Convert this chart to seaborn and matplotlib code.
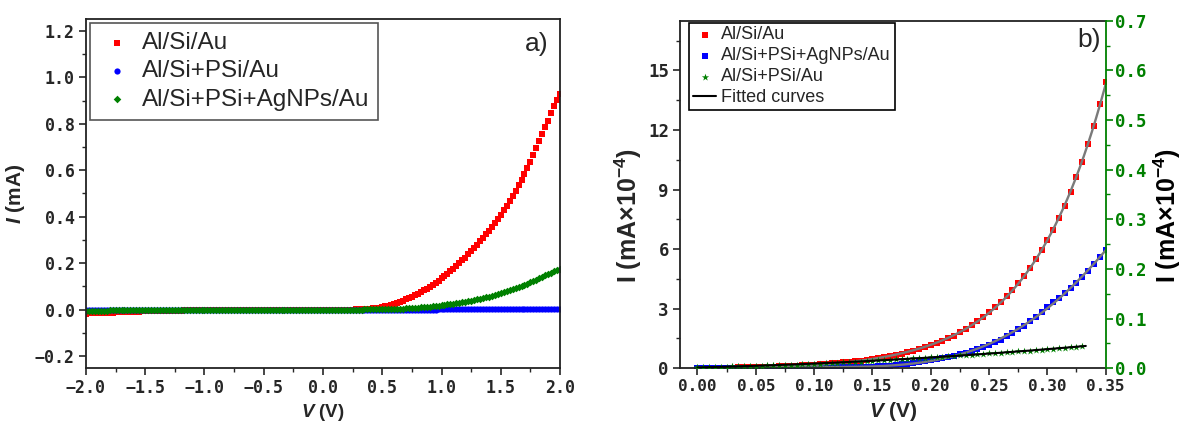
import numpy as np
import matplotlib
matplotlib.use("Agg")
import matplotlib.pyplot as plt
from matplotlib.ticker import MultipleLocator, FuncFormatter
import seaborn as sns

# ---------------- (a) full I-V sweep, -2 V .. 2 V in 25 mV steps, current in mA ----------------
v_sweep = np.round(np.arange(-2.0, 2.0001, 0.025), 3)

i_al_si_au = [
    # -2.000 .. -0.025 V
    -0.0170, -0.0165, -0.0160, -0.0155, -0.0150, -0.0145, -0.0140, -0.0135,
    -0.0130, -0.0125, -0.0120, -0.0115, -0.0110, -0.0105, -0.0100, -0.0095,
    -0.0090, -0.0087, -0.0084, -0.0080, -0.0077, -0.0074, -0.0070, -0.0066,
    -0.0062, -0.0058, -0.0055, -0.0052, -0.0050, -0.0047, -0.0044, -0.0041,
    -0.0038, -0.0035, -0.0033, -0.0031, -0.0029, -0.0027, -0.0025, -0.0023,
    -0.0021, -0.0020, -0.0019, -0.0018, -0.0017, -0.0016, -0.0015, -0.0014,
    -0.0013, -0.0012, -0.0012, -0.0011, -0.0011, -0.0010, -0.0010, -0.0009,
    -0.0009, -0.0008, -0.0008, -0.0007, -0.0007, -0.0006, -0.0006, -0.0005,
    -0.0005, -0.0004, -0.0004, -0.0004, -0.0003, -0.0003, -0.0003, -0.0002,
    -0.0002, -0.0002, -0.0001, -0.0001, -0.0001, -0.0001, 0.0, 0.0,
    # 0.000 .. 2.000 V
    0.0, 0.0, 0.0001, 0.0001, 0.0001, 0.0002, 0.0002, 0.0002,
    0.0003, 0.0004, 0.0005, 0.0006, 0.0008, 0.0010, 0.0013, 0.0017,
    0.0035, 0.0050, 0.0068, 0.0090, 0.0115, 0.0143, 0.0175, 0.0210,
    0.0250, 0.0292, 0.0338, 0.0387, 0.0440, 0.0496, 0.0555, 0.0618,
    0.0684, 0.0754, 0.0827, 0.0904, 0.0985, 0.1070, 0.1158, 0.1250,
    0.1345, 0.1444, 0.1547, 0.1654, 0.1764, 0.1878, 0.1996, 0.2118,
    0.2244, 0.2374, 0.2508, 0.2646, 0.2788, 0.2934, 0.3085, 0.3240,
    0.3400, 0.3565, 0.3735, 0.3910, 0.4090, 0.4276, 0.4468, 0.4666,
    0.490, 0.512, 0.535, 0.558, 0.582, 0.608, 0.635, 0.665,
    0.698, 0.728, 0.757, 0.785, 0.812, 0.845, 0.875, 0.903,
    0.930,
]

i_al_si_psi_au = [
    # -2.000 .. -0.025 V
    -0.0030, -0.0029, -0.0028, -0.0027, -0.0026, -0.0025, -0.0024, -0.0023,
    -0.0022, -0.0021, -0.0020, -0.0019, -0.0018, -0.0017, -0.0016, -0.0015,
    -0.0014, -0.0013, -0.0012, -0.0012, -0.0011, -0.0010, -0.0010, -0.0009,
    -0.0008, -0.0008, -0.0007, -0.0007, -0.0006, -0.0006, -0.0005, -0.0005,
    -0.0004, -0.0004, -0.0004, -0.0003, -0.0003, -0.0003, -0.0002, -0.0002,
    -0.0002, -0.0002, -0.0001, -0.0001, -0.0001, -0.0001, -0.0001, -0.0001,
    0.0, 0.0, 0.0, 0.0, 0.0, 0.0, 0.0, 0.0,
    0.0, 0.0, 0.0, 0.0, 0.0, 0.0, 0.0, 0.0,
    0.0, 0.0, 0.0, 0.0, 0.0, 0.0, 0.0, 0.0,
    0.0, 0.0, 0.0, 0.0, 0.0, 0.0, 0.0, 0.0,
    # 0.000 .. 2.000 V
    0.0, 0.0, 0.0, 0.0, 0.0, 0.0, 0.0, 0.0,
    0.0, 0.0, 0.0, 0.0, 0.0, 0.0, 0.0, 0.0,
    0.0, 0.0, 0.0, 0.0001, 0.0001, 0.0001, 0.0001, 0.0002,
    0.0002, 0.0002, 0.0002, 0.0003, 0.0003, 0.0003, 0.0003, 0.0004,
    0.0004, 0.0004, 0.0004, 0.0005, 0.0005, 0.0005, 0.0005, 0.0006,
    0.0006, 0.0006, 0.0006, 0.0007, 0.0007, 0.0007, 0.0007, 0.0008,
    0.0008, 0.0008, 0.0008, 0.0009, 0.0009, 0.0009, 0.0009, 0.0010,
    0.0010, 0.0010, 0.0011, 0.0011, 0.0011, 0.0012, 0.0012, 0.0012,
    0.0013, 0.0013, 0.0013, 0.0014, 0.0014, 0.0014, 0.0015, 0.0015,
    0.0015, 0.0016, 0.0016, 0.0016, 0.0017, 0.0017, 0.0017, 0.0018,
    0.0018,
]

i_al_si_psi_agnps_au = [
    # -2.000 .. -0.025 V
    -0.0045, -0.0044, -0.0043, -0.0042, -0.0041, -0.0040, -0.0039, -0.0038,
    -0.0036, -0.0035, -0.0034, -0.0033, -0.0032, -0.0031, -0.0030, -0.0029,
    -0.0027, -0.0026, -0.0025, -0.0024, -0.0023, -0.0022, -0.0021, -0.0020,
    -0.0019, -0.0018, -0.0017, -0.0016, -0.0015, -0.0014, -0.0013, -0.0012,
    -0.0011, -0.0010, -0.0010, -0.0009, -0.0009, -0.0008, -0.0008, -0.0007,
    -0.0007, -0.0006, -0.0006, -0.0005, -0.0005, -0.0004, -0.0004, -0.0004,
    -0.0003, -0.0003, -0.0003, -0.0003, -0.0002, -0.0002, -0.0002, -0.0002,
    -0.0001, -0.0001, -0.0001, -0.0001, 0.0, 0.0, 0.0, 0.0,
    0.0, 0.0, 0.0, 0.0, 0.0, 0.0, 0.0, 0.0,
    0.0, 0.0, 0.0, 0.0, 0.0, 0.0, 0.0, 0.0,
    # 0.000 .. 2.000 V
    0.0, 0.0, 0.0001, 0.0001, 0.0001, 0.0001, 0.0002, 0.0002,
    0.0002, 0.0003, 0.0003, 0.0004, 0.0004, 0.0005, 0.0006, 0.0007,
    0.0008, 0.0009, 0.0010, 0.0012, 0.0014, 0.0016, 0.0019, 0.0022,
    0.0027, 0.0032, 0.0038, 0.0045, 0.0052, 0.0060, 0.0068, 0.0077,
    0.0086, 0.0095, 0.0105, 0.0116, 0.0128, 0.0143, 0.0159, 0.0175,
    0.0192, 0.0209, 0.0225, 0.0244, 0.0263, 0.0283, 0.0303, 0.0324,
    0.0345, 0.0368, 0.0392, 0.0417, 0.0443, 0.0470, 0.0500, 0.0531,
    0.0563, 0.0596, 0.0630, 0.0666, 0.0703, 0.0742, 0.0783, 0.0826,
    0.0870, 0.0916, 0.0964, 0.1014, 0.1066, 0.1120, 0.1175, 0.1232,
    0.1290, 0.1350, 0.1410, 0.1470, 0.1530, 0.1590, 0.1650, 0.1710,
    0.1770,
]

# ---------------- (b) low-bias region, current in mA x 1e-4 ----------------
v_low = np.round(np.arange(0.0, 0.35001, 0.005), 3)

i_b_al_si_au = [
    0.00, 0.00, 0.01, 0.01, 0.02, 0.02, 0.03, 0.04, 0.04, 0.05,
    0.06, 0.07, 0.08, 0.09, 0.10, 0.11, 0.12, 0.14, 0.15, 0.17,
    0.19, 0.21, 0.23, 0.25, 0.27, 0.30, 0.33, 0.36, 0.39, 0.43,
    0.47, 0.51, 0.56, 0.61, 0.67, 0.73, 0.80, 0.88, 0.96, 1.05,
    1.15, 1.26, 1.38, 1.51, 1.65, 1.81, 1.98, 2.17, 2.38, 2.60,
    2.83, 3.08, 3.35, 3.64, 3.95, 4.29, 4.66, 5.06, 5.49, 5.96,
    6.45, 6.98, 7.56, 8.18, 8.88, 9.62, 10.40, 11.30, 12.20, 13.30, 14.40,
]

i_b_agnps = [
    0.00, 0.00, 0.00, 0.00, 0.01, 0.01, 0.01, 0.01, 0.01, 0.01,
    0.01, 0.01, 0.01, 0.02, 0.02, 0.02, 0.02, 0.02, 0.02, 0.03,
    0.03, 0.03, 0.04, 0.04, 0.05, 0.05, 0.06, 0.06, 0.07, 0.08,
    0.09, 0.10, 0.12, 0.14, 0.17, 0.20, 0.23, 0.27, 0.31, 0.35,
    0.40, 0.45, 0.50, 0.56, 0.63, 0.70, 0.78, 0.87, 0.96, 1.06,
    1.17, 1.30, 1.44, 1.61, 1.80, 1.97, 2.15, 2.37, 2.60, 2.84,
    3.08, 3.33, 3.56, 3.80, 4.05, 4.30, 4.60, 4.92, 5.25, 5.60, 5.95,
]

v_psi = np.round(np.arange(0.0, 0.33001, 0.005), 3)
i_b_psi = [
    0.0020, 0.0023, 0.0026, 0.0029, 0.0032, 0.0035, 0.0038, 0.0041, 0.0044, 0.0047,
    0.0050, 0.0054, 0.0057, 0.0060, 0.0064, 0.0067, 0.0071, 0.0075, 0.0079, 0.0083,
    0.0090, 0.0095, 0.0100, 0.0106, 0.0112, 0.0118, 0.0124, 0.0130, 0.0136, 0.0143,
    0.0150, 0.0157, 0.0164, 0.0171, 0.0178, 0.0185, 0.0192, 0.0199, 0.0206, 0.0213,
    0.0220, 0.0228, 0.0236, 0.0244, 0.0252, 0.0260, 0.0268, 0.0276, 0.0284, 0.0292,
    0.0300, 0.0308, 0.0316, 0.0324, 0.0332, 0.0340, 0.0348, 0.0356, 0.0364, 0.0372,
    0.0380, 0.0390, 0.0400, 0.0410, 0.0420, 0.0432, 0.0444,
]

RED, BLUE, GREEN = "#ff0000", "#0000ff", "#008000"

sns.set_theme(style="ticks")
plt.rcParams.update({
    "font.family": ["Liberation Sans", "DejaVu Sans"],
    "mathtext.fontset": "custom",
    "mathtext.rm": "Liberation Sans:bold",
    "mathtext.it": "Liberation Sans:italic:bold",
    "mathtext.bf": "Liberation Sans:bold",
    "axes.linewidth": 1.3,
    "axes.edgecolor": "#222222",
    "axes.unicode_minus": True,
})

TICK_FONT = dict(family=["DejaVu Sans Mono", "DejaVu Sans"], weight="bold", size=12)


def fmt(decimals):
    return FuncFormatter(lambda v, pos: f"{v:.{decimals}f}".replace("-", "\u2212"))


fig = plt.figure(figsize=(11.89, 4.34), dpi=100)
ax_a = fig.add_axes([0.0723, 0.1528, 0.3987, 0.8027])
ax_b = fig.add_axes([0.5719, 0.1514, 0.3580, 0.8009])

# ---- panel (a) ----
sns.scatterplot(x=v_sweep, y=i_al_si_au, ax=ax_a, marker="s", s=19, color=RED,
                linewidth=0, label="Al/Si/Au", legend=False)
sns.scatterplot(x=v_sweep, y=i_al_si_psi_au, ax=ax_a, marker="o", s=20, color=BLUE,
                linewidth=0, label="Al/Si+PSi/Au", legend=False)
sns.scatterplot(x=v_sweep, y=i_al_si_psi_agnps_au, ax=ax_a, marker="D", s=15, color=GREEN,
                linewidth=0, label="Al/Si+PSi+AgNPs/Au", legend=False)

ax_a.set_xlim(-2.0, 2.0)
ax_a.set_ylim(-0.25, 1.25)
ax_a.xaxis.set_major_locator(MultipleLocator(0.5))
ax_a.xaxis.set_minor_locator(MultipleLocator(0.25))
ax_a.yaxis.set_major_locator(MultipleLocator(0.2))
ax_a.yaxis.set_minor_locator(MultipleLocator(0.1))
ax_a.xaxis.set_major_formatter(fmt(1))
ax_a.yaxis.set_major_formatter(fmt(1))
ax_a.tick_params(which="major", direction="out", length=5, width=1.2, pad=3)
ax_a.tick_params(which="minor", direction="out", length=3, width=1.0)
for lab in ax_a.get_xticklabels() + ax_a.get_yticklabels():
    lab.set_fontproperties(TICK_FONT)
ax_a.set_xlabel("$V$ (V)", fontsize=13.5, fontweight="bold", labelpad=4)
ax_a.set_ylabel("$I$ (mA)", fontsize=15, fontweight="bold", labelpad=6)
ax_a.text(0.975, 0.963, "a)", transform=ax_a.transAxes, ha="right", va="top", fontsize=19)

h, l = ax_a.get_legend_handles_labels()
leg_a = ax_a.legend(h, l, loc="upper left", bbox_to_anchor=(0.008, 0.99), fontsize=17.5,
                    frameon=True, fancybox=False, edgecolor="#555555", framealpha=1,
                    markerscale=1.0, handletextpad=0.3, borderpad=0.38,
                    labelspacing=0.26, handlelength=1.45, borderaxespad=0)
leg_a.get_frame().set_linewidth(1.2)

# ---- panel (b) ----
ax_c = ax_b.twinx()
ax_c.set_zorder(ax_b.get_zorder() + 1)

sns.scatterplot(x=v_low, y=i_b_al_si_au, ax=ax_b, marker="s", s=24, color=RED,
                linewidth=0, label="Al/Si/Au", legend=False)
sns.scatterplot(x=v_low, y=i_b_agnps, ax=ax_b, marker="s", s=22, color=BLUE,
                linewidth=0, label="Al/Si+PSi+AgNPs/Au", legend=False)

# Polynomial fits through each measured set
v_fit = np.linspace(0.0, 0.35, 300)
fit_red = np.polyval(np.polyfit(v_low, i_b_al_si_au, 5), v_fit)
fit_blue = np.polyval(np.polyfit(v_low, i_b_agnps, 5), v_fit)
v_fit_psi = np.linspace(0.0, 0.333, 200)
fit_psi = np.polyval(np.polyfit(v_psi, i_b_psi, 2), v_fit_psi)

sns.lineplot(x=v_fit, y=fit_red, ax=ax_b, color="#7a7a7a", linewidth=1.7, legend=False)
sns.lineplot(x=v_fit, y=fit_blue, ax=ax_b, color="#7a7a7a", linewidth=1.7, legend=False)

sns.scatterplot(x=v_psi, y=i_b_psi, ax=ax_c, marker="*", s=30, color=GREEN,
                linewidth=0, label="Al/Si+PSi/Au", legend=False)
sns.lineplot(x=v_fit_psi, y=fit_psi, ax=ax_c, color="black", linewidth=1.5,
             label="Fitted curves", legend=False)

ax_b.set_xlim(-0.015, 0.35)
ax_b.set_ylim(0, 17.5)
ax_c.set_ylim(0, 0.7)
ax_b.xaxis.set_major_locator(MultipleLocator(0.05))
ax_b.xaxis.set_minor_locator(MultipleLocator(0.025))
ax_b.yaxis.set_major_locator(MultipleLocator(3))
ax_b.yaxis.set_minor_locator(MultipleLocator(1.5))
ax_c.yaxis.set_major_locator(MultipleLocator(0.1))
ax_c.yaxis.set_minor_locator(MultipleLocator(0.05))
ax_b.xaxis.set_major_formatter(fmt(2))
ax_b.yaxis.set_major_formatter(fmt(0))
ax_c.yaxis.set_major_formatter(fmt(1))

ax_b.tick_params(which="major", direction="out", length=5, width=1.2, pad=3)
ax_b.tick_params(which="minor", direction="out", length=3, width=1.0)
ax_c.tick_params(axis="y", which="major", direction="out", length=5, width=1.2,
                 color=GREEN, labelcolor=GREEN, pad=2)
ax_c.tick_params(axis="y", which="minor", direction="out", length=3, width=1.0, color=GREEN)
for lab in ax_b.get_xticklabels():
    lab.set_fontproperties(dict(TICK_FONT, size=11.5))
for lab in ax_c.get_yticklabels():
    lab.set_fontproperties(dict(TICK_FONT, size=12.5))
for lab in ax_b.get_yticklabels():
    lab.set_fontproperties(dict(TICK_FONT, size=12.5))

ax_b.spines["right"].set_visible(False)
ax_c.spines["right"].set_color(GREEN)
ax_c.spines["right"].set_linewidth(1.3)
ax_c.spines["left"].set_visible(False)
ax_c.spines["top"].set_visible(False)
ax_c.spines["bottom"].set_visible(False)

ax_b.set_xlabel("$V$ (V)", fontsize=15, fontweight="bold", labelpad=4)
ax_b.set_ylabel("I (mA\u00d710$^{-4}$)", fontsize=18, fontweight="bold")
ax_b.yaxis.set_label_coords(-0.085, 0.44)
ax_c.set_ylabel("I (mA\u00d710$^{-4}$)", fontsize=18, fontweight="bold",
                rotation=90, color="black")
ax_c.yaxis.set_label_coords(1.108, 0.44)
ax_c.text(0.988, 0.98, "b)", transform=ax_c.transAxes, ha="right", va="top", fontsize=19)

hb, lb = ax_b.get_legend_handles_labels()
hc, lc = ax_c.get_legend_handles_labels()
leg_b = ax_c.legend(hb + hc, lb + lc, loc="upper left", bbox_to_anchor=(0.022, 0.994),
                    fontsize=13.0, frameon=True, fancybox=False, edgecolor="black",
                    framealpha=1, handletextpad=0.27, borderpad=0.2, labelspacing=0.22,
                    handlelength=1.3, borderaxespad=0)
leg_b.get_frame().set_linewidth(1.2)

fig.savefig("out.png", dpi=100)
